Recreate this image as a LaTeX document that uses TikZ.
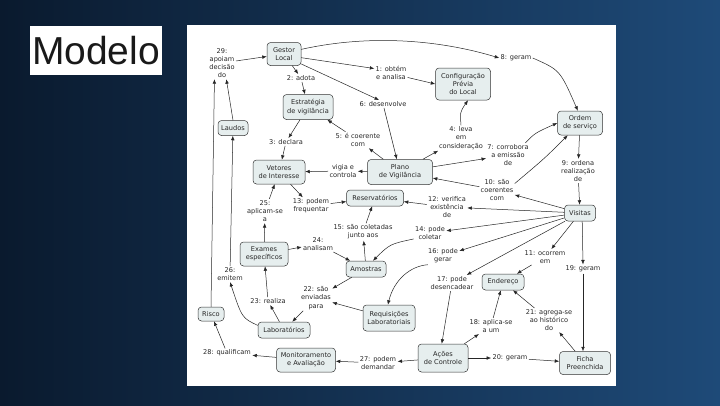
\documentclass[tikz,border=0pt]{standalone}
\usepackage{fontspec}
\newfontfamily\cmfont{DejaVu Sans}
\newfontfamily\titlefont{Liberation Sans}
\usetikzlibrary{arrows.meta}
\definecolor{bgL}{HTML}{0A1A2E}
\definecolor{bgR}{HTML}{1E4A78}
\definecolor{cfill}{HTML}{E6EEEE}
\definecolor{cline}{HTML}{333333}
\begin{document}
\begin{tikzpicture}[x=1pt,y=-1pt,
  concept/.style={draw=cline, fill=cfill, rounded corners=3.5pt, align=center,
    font=\cmfont\fontsize{6.6}{8.2}\selectfont, inner sep=1pt, line width=0.5pt, text=black!85},
  lnk/.style={align=center, font=\cmfont\fontsize{6.6}{8.2}\selectfont, inner sep=1.2pt, text=black!85},
  arr/.style={-{Latex[length=4.5pt,width=3.6pt]}, line width=0.5pt, black!85}]
\useasboundingbox (0,0) rectangle (720,405);
\shade[left color=bgL, right color=bgR] (0,0) rectangle (720,405);
\fill[white] (187,25) rectangle (616,386);
\node[fill=white, minimum width=132pt, minimum height=49pt, inner sep=0pt,
  font=\titlefont\fontsize{39}{39}\selectfont, text=black!90] (title) at (96,50.5) {Modelo};

% concepts
\node[concept, minimum width=34pt, minimum height=23pt] (gestor) at (284,54) {Gestor\\Local};
\node[concept, minimum width=55pt, minimum height=32pt] (config) at (463,84) {Configuração\\Prévia\\do Local};
\node[concept, minimum width=50pt, minimum height=25pt] (estrat) at (308,107) {Estratégia\\de vigilância};
\node[concept, minimum width=30pt, minimum height=15pt] (laudos) at (233,128) {Laudos};
\node[concept, minimum width=45pt, minimum height=24pt] (ordem) at (580,123) {Ordem\\de serviço};
\node[concept, minimum width=52pt, minimum height=24pt] (vetores) at (279,172) {Vetores\\de Interesse};
\node[concept, minimum width=65pt, minimum height=25pt] (plano) at (400,172) {Plano\\de Vigilância};
\node[concept, minimum width=57pt, minimum height=16pt] (reserv) at (375,198) {Reservatórios};
\node[concept, minimum width=31pt, minimum height=16pt] (visitas) at (580,213) {Visitas};
\node[concept, minimum width=48pt, minimum height=24pt] (exames) at (264,254) {Exames\\específicos};
\node[concept, minimum width=40pt, minimum height=16pt] (amostras) at (366,269) {Amostras};
\node[concept, minimum width=42pt, minimum height=16pt] (endereco) at (503,282) {Endereço};
\node[concept, minimum width=26pt, minimum height=14pt] (risco) at (211,314) {Risco};
\node[concept, minimum width=52pt, minimum height=26pt] (requis) at (389,318) {Requisições\\Laboratoriais};
\node[concept, minimum width=52pt, minimum height=16pt] (labs) at (284,330) {Laboratórios};
\node[concept, minimum width=59pt, minimum height=24pt] (monit) at (306,360) {Monitoramento\\e Avaliação};
\node[concept, minimum width=50pt, minimum height=28pt] (acoes) at (443,358) {Ações\\de Controle};
\node[concept, minimum width=51pt, minimum height=23pt] (ficha) at (585,363) {Ficha\\Preenchida};

% linking phrases
\node[lnk] (l1) at (391,73) {1: obtém\\e analisa};
\node[lnk] (l2) at (301,78) {2: adota};
\node[lnk] (l3) at (286,142) {3: declara};
\node[lnk] (l4) at (461,138) {4: leva\\em\\consideração};
\node[lnk] (l5) at (358,140) {5: é coerente\\com};
\node[lnk] (l6) at (383,104) {6: desenvolve};
\node[lnk] (l7) at (508,155) {7: corrobora\\a emissão\\de};
\node[lnk] (l8) at (516,58) {8: geram};
\node[lnk] (l9) at (578,171) {9: ordena\\realização\\de};
\node[lnk] (l10) at (497,190) {10: são\\coerentes\\com};
\node[lnk] (l11) at (545,257) {11: ocorrem\\em};
\node[lnk] (l12) at (447,207) {12: verifica\\existência\\de};
\node[lnk] (l13) at (311,206) {13: podem\\frequentar};
\node[lnk] (l14) at (430,233) {14: pode\\coletar};
\node[lnk] (l15) at (363,232) {15: são coletadas\\junto aos};
\node[lnk] (l16) at (443,256) {16: pode\\gerar};
\node[lnk] (l17) at (452,283) {17: pode\\desencadear};
\node[lnk] (l18) at (491,326) {18: aplica-se\\a um};
\node[lnk] (l19) at (583,269) {19: geram};
\node[lnk] (l20) at (510,358) {20: geram};
\node[lnk] (l21) at (549,320) {21: agrega-se\\ao histórico\\do};
\node[lnk] (l22) at (316,298) {22: são\\enviadas\\para};
\node[lnk] (l23) at (268,301) {23: realiza};
\node[lnk] (l24) at (318,244) {24:\\analisam};
\node[lnk] (l25) at (265,211) {25:\\aplicam-se\\a};
\node[lnk] (l26) at (230,274) {26:\\emitem};
\node[lnk] (l27) at (378,363) {27: podem\\demandar};
\node[lnk] (l28) at (227,353) {28: qualificam};
\node[lnk] (l29) at (222,63) {29:\\apoiam\\decisão\\do};
\node[lnk] (lvc) at (343,171) {vigia e\\controla};

% connectors
\draw[arr] (gestor.-12) -- (l1.165);
\draw[arr] (l1.-15) -- (config.west);
\draw[arr] (gestor) -- (l2);
\draw[arr] (l2) -- (estrat);
\draw[arr] (estrat) -- (l3);
\draw[arr] (l3) -- (vetores);
\draw[arr] (plano) -- (l4);
\draw[arr] (l4.north) .. controls (460,112) .. ([xshift=5pt]config.south);
\draw[arr] (plano) -- (l5);
\draw[arr] (l5) -- (estrat);
\draw[arr] (gestor.-30) -- (l6.135);
\draw[arr] (l6) -- (plano);
\draw[arr] (plano) -- (l7);
\draw[arr] (l7.35) .. controls (535,133) .. (ordem.west);
\draw[arr] (gestor.15) .. controls (370,34) and (440,40) .. (l8.west);
\draw[arr] (l8.east) .. controls (560,70) .. (ordem.100);
\draw[arr] (ordem) -- (l9);
\draw[arr] (l9) -- (visitas);
\draw[arr] (visitas) -- (l10);
\draw[arr] (l10) -- (plano);
\draw[arr] (l10.20) .. controls (545,158) .. (ordem.-135);
\draw[arr] (visitas) -- (l11);
\draw[arr] (l11) -- (endereco);
\draw[arr] (visitas) -- (l12);
\draw[arr] (l12) -- (reserv);
\draw[arr] (vetores) -- (l13);
\draw[arr] (l13) -- (reserv);
\draw[arr] (visitas) -- (l14);
\draw[arr] (l14.200) .. controls (390,244) .. (amostras.50);
\draw[arr] (amostras) -- (l15);
\draw[arr] (l15) -- (reserv);
\draw[arr] (visitas) -- (l16);
\draw[arr] (l16.210) .. controls (410,266) and (394,280) .. (requis.95);
\draw[arr] (visitas) -- (l17);
\draw[arr] (l17.-100) -- (acoes.95);
\draw[arr] (acoes) -- (l18);
\draw[arr] (l18) -- (endereco);
\draw[arr] (visitas.-75) -- (l19.north);
\draw[arr] (l19.south) -- ([xshift=-2pt]ficha.north);
\draw[arr] (acoes) -- (l20);
\draw[arr] (l20) -- (ficha);
\draw[arr] (ficha) -- (l21);
\draw[arr] (l21) -- (endereco);
\draw[arr] (amostras) -- (l22);
\draw[arr] (requis) -- (l22);
\draw[arr] (l22) -- (labs);
\draw[arr] (labs) -- (l23);
\draw[arr] (l23) -- (exames);
\draw[arr] (exames) -- (l24);
\draw[arr] (l24) -- (amostras);
\draw[arr] (exames) -- (l25);
\draw[arr] (l25) -- (vetores);
\draw[arr] (labs.170) .. controls (242,318) .. (l26.south);
\draw[arr] (l26) -- (laudos);
\draw[arr] (laudos.north) -- (l29.-75);
\draw[arr] (risco.north) -- (l29.-115);
\draw[arr] (l29) -- (gestor);
\draw[arr] (acoes) -- (l27);
\draw[arr] (l27) -- (monit);
\draw[arr] (monit) -- (l28);
\draw[arr] (l28) -- (risco);
\draw[arr] (plano) -- (lvc);
\draw[arr] (lvc) -- (vetores);
\end{tikzpicture}
\end{document}
